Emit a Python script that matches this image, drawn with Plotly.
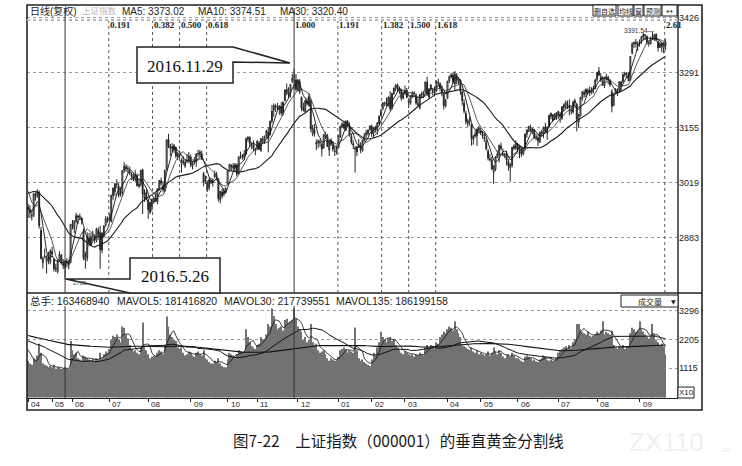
import numpy as np
import pandas as pd
import plotly.graph_objects as go

# 上证指数 (000001) daily bars, 2016-04-27 .. 2017-09-21
opens = [
    2960, 2952, 2937, 2939, 2985, 2989, 2995, 2902, 2822, 2838, 2825, 2833, 2824, 2850, 2830, 2807, 2800, 2827, 2840, 2820, 2810, 2822, 2816, 2822,  # 2016-04/05
    2914, 2906, 2924, 2937, 2934, 2931, 2900, 2829, 2834, 2882, 2870, 2886, 2887, 2876, 2901, 2896, 2853, 2888, 2915, 2930,  # 06
    2932, 2924, 2987, 2997, 3015, 3011, 2991, 2994, 3049, 3058, 3053, 3046, 3040, 3036, 3027, 3037, 3010, 3015, 3051, 2982, 2995,  # 07
    2977, 2946, 2960, 2974, 2982, 2972, 3003, 3024, 3009, 3000, 3051, 3126, 3104, 3108, 3100, 3106, 3084, 3093, 3075, 3072, 3060, 3072, 3075,  # 08
    3083, 3060, 3070, 3070, 3091, 3088, 3090, 3042, 3026, 3018, 3007, 3025, 3020, 3034, 3040, 3029, 2977, 2996, 2991, 2998,  # 09
    3016, 3050, 3062, 3056, 3057, 3063, 3040, 3086, 3082, 3082, 3090, 3127, 3130, 3112, 3114, 3102,  # 10
    3103, 3117, 3098, 3125, 3120, 3135, 3144, 3138, 3171, 3199, 3206, 3208, 3200, 3208, 3190, 3222, 3250, 3238, 3240, 3270, 3280, 3273,  # 11
    3247, 3270, 3230, 3205, 3194, 3221, 3212, 3221, 3140, 3150, 3115, 3118, 3120, 3114, 3105, 3135, 3136, 3100, 3122, 3112, 3096, 3095,  # 12
    3105, 3133, 3157, 3164, 3149, 3170, 3160, 3134, 3116, 3105, 3095, 3106, 3110, 3098, 3125, 3137, 3141, 3150,  # 2017-01
    3158, 3140, 3156, 3149, 3165, 3185, 3202, 3217, 3217, 3210, 3230, 3203, 3240, 3253, 3260, 3246, 3248, 3228,  # 02
    3241, 3248, 3222, 3215, 3231, 3241, 3235, 3215, 3204, 3236, 3235, 3243, 3267, 3230, 3250, 3246, 3245, 3245, 3267, 3264, 3250, 3238, 3208,  # 03
    3227, 3270, 3280, 3285, 3263, 3284, 3267, 3272, 3244, 3216, 3190, 3165, 3171, 3161, 3126, 3134, 3135, 3148,  # 04
    3149, 3140, 3131, 3121, 3097, 3076, 3075, 3045, 3052, 3082, 3087, 3110, 3090, 3087, 3088, 3072, 3056, 3062, 3104, 3105,  # 05
    3112, 3098, 3102, 3090, 3103, 3139, 3146, 3154, 3147, 3150, 3129, 3130, 3120, 3145, 3140, 3157, 3142, 3158, 3183, 3187, 3176, 3182,  # 06
    3190, 3188, 3179, 3204, 3207, 3213, 3208, 3196, 3194, 3216, 3213, 3168, 3184, 3228, 3242, 3240, 3248, 3243, 3240, 3249, 3252,  # 07
    3274, 3295, 3281, 3269, 3258, 3278, 3280, 3271, 3244, 3211, 3240, 3244, 3246, 3258, 3269, 3286, 3285, 3285, 3272, 3339, 3362, 3366, 3362,  # 08
    3363, 3368, 3380, 3382, 3380, 3363, 3363, 3379, 3373, 3386, 3368, 3353, 3364, 3350, 3367,  # 09
]
highs = [
    2967, 2964, 2951, 2993, 2995, 3003, 3000, 2910, 2837, 2857, 2840, 2849, 2855, 2861, 2833, 2819, 2830, 2850, 2843, 2830, 2826, 2833, 2829, 2917,
    2927, 2926, 2945, 2940, 2943, 2935, 2906, 2849, 2897, 2895, 2895, 2901, 2892, 2908, 2909, 2913, 2897, 2915, 2937, 2936,
    2944, 2990, 3007, 3018, 3028, 3018, 3008, 3050, 3070, 3065, 3062, 3059, 3045, 3042, 3050, 3042, 3025, 3051, 3054, 3003, 3003,
    2980, 2972, 2980, 2985, 2993, 3006, 3025, 3032, 3023, 3051, 3126, 3140, 3115, 3117, 3115, 3108, 3095, 3099, 3080, 3085, 3076, 3090, 3095,
    3089, 3072, 3083, 3092, 3101, 3100, 3098, 3046, 3037, 3025, 3030, 3032, 3030, 3049, 3046, 3031, 2999, 3004, 3006, 3009,
    3048, 3066, 3065, 3068, 3068, 3067, 3084, 3096, 3090, 3100, 3131, 3135, 3134, 3119, 3124, 3106,
    3124, 3122, 3130, 3135, 3136, 3150, 3156, 3173, 3211, 3215, 3213, 3216, 3211, 3218, 3220, 3250, 3264, 3255, 3262, 3288, 3301, 3288,
    3275, 3275, 3232, 3217, 3222, 3229, 3240, 3227, 3162, 3164, 3126, 3126, 3126, 3118, 3140, 3145, 3140, 3123, 3129, 3122, 3108, 3111,
    3136, 3160, 3168, 3172, 3173, 3174, 3168, 3140, 3124, 3110, 3110, 3127, 3119, 3125, 3142, 3150, 3151, 3161,
    3163, 3157, 3160, 3168, 3186, 3202, 3218, 3219, 3230, 3233, 3245, 3240, 3254, 3262, 3264, 3257, 3251, 3244,
    3259, 3253, 3227, 3234, 3245, 3245, 3240, 3226, 3237, 3244, 3246, 3269, 3281, 3253, 3262, 3252, 3257, 3272, 3276, 3267, 3260, 3241, 3226,
    3270, 3284, 3290, 3292, 3295, 3290, 3280, 3275, 3245, 3225, 3196, 3177, 3182, 3165, 3137, 3148, 3153, 3160,
    3155, 3147, 3140, 3128, 3102, 3090, 3083, 3062, 3085, 3098, 3113, 3118, 3104, 3093, 3098, 3078, 3068, 3107, 3114, 3124,
    3118, 3113, 3105, 3103, 3140, 3150, 3160, 3163, 3155, 3152, 3140, 3133, 3145, 3150, 3158, 3167, 3158, 3188, 3192, 3188, 3191, 3193,
    3197, 3194, 3208, 3215, 3222, 3222, 3225, 3208, 3222, 3227, 3217, 3190, 3231, 3245, 3249, 3252, 3252, 3257, 3255, 3259, 3276,
    3292, 3305, 3290, 3282, 3281, 3288, 3283, 3275, 3250, 3240, 3252, 3252, 3270, 3271, 3289, 3293, 3292, 3291, 3332, 3366, 3368, 3374, 3368,
    3373, 3381, 3390, 3386, 3383, 3370, 3380, 3391.54, 3387, 3388, 3370, 3366, 3366, 3366, 3374,
]
lows = [
    2932, 2932, 2926, 2934, 2975, 2982, 2906, 2830, 2807, 2832, 2795, 2818, 2818, 2836, 2800, 2799, 2795, 2823, 2817, 2806, 2780, 2810, 2805, 2820,
    2904, 2895, 2919, 2917, 2927, 2916, 2828, 2807, 2825, 2862, 2863, 2876, 2869, 2872, 2882, 2807, 2845, 2883, 2910, 2920,
    2925, 2921, 2977, 2987, 3005, 2983, 2985, 2986, 3043, 3046, 3044, 3038, 3026, 3023, 3022, 3010, 3006, 3010, 2942, 2972, 2975,
    2930, 2942, 2948, 2967, 2973, 2966, 3000, 3012, 2995, 2996, 3050, 3105, 3085, 3095, 3093, 3080, 3075, 3080, 3044, 3063, 3056, 3067, 3068,
    3058, 3052, 3064, 3058, 3083, 3084, 3075, 3010, 3016, 2996, 3000, 3016, 3010, 3030, 3025, 2973, 2968, 2980, 2985, 2993,
    3016, 3047, 3048, 3050, 3046, 3035, 3040, 3078, 3076, 3075, 3089, 3120, 3107, 3102, 3097, 3087,
    3099, 3100, 3096, 3118, 3115, 3130, 3094, 3136, 3166, 3182, 3194, 3198, 3187, 3185, 3185, 3220, 3235, 3228, 3230, 3265, 3250, 3245,
    3245, 3238, 3196, 3195, 3190, 3209, 3207, 3145, 3134, 3133, 3100, 3105, 3108, 3084, 3104, 3127, 3107, 3085, 3110, 3096, 3085, 3089,
    3105, 3130, 3154, 3151, 3147, 3157, 3133, 3114, 3102, 3044, 3085, 3105, 3092, 3096, 3122, 3130, 3136, 3148,
    3132, 3131, 3143, 3138, 3164, 3183, 3198, 3208, 3208, 3207, 3196, 3200, 3236, 3245, 3243, 3238, 3222, 3225,
    3236, 3228, 3203, 3212, 3228, 3232, 3212, 3208, 3200, 3228, 3229, 3242, 3234, 3227, 3245, 3235, 3232, 3244, 3258, 3245, 3233, 3200, 3205,
    3227, 3265, 3277, 3263, 3245, 3263, 3262, 3236, 3210, 3190, 3163, 3157, 3160, 3111, 3113, 3130, 3110, 3143,
    3137, 3128, 3120, 3099, 3074, 3071, 3051, 3016, 3048, 3080, 3069, 3099, 3085, 3080, 3062, 3049, 3022, 3057, 3100, 3100,
    3095, 3080, 3083, 3087, 3100, 3130, 3144, 3145, 3139, 3128, 3124, 3110, 3117, 3133, 3130, 3141, 3125, 3158, 3176, 3170, 3174, 3174,
    3176, 3167, 3174, 3196, 3202, 3201, 3186, 3188, 3190, 3210, 3146, 3155, 3183, 3222, 3230, 3230, 3237, 3233, 3238, 3240, 3250,
    3268, 3282, 3268, 3258, 3253, 3272, 3262, 3256, 3193, 3208, 3237, 3233, 3244, 3245, 3265, 3280, 3278, 3270, 3272, 3336, 3352, 3353, 3345,
    3355, 3362, 3372, 3371, 3360, 3355, 3360, 3373, 3369, 3368, 3343, 3352, 3341, 3339, 3346,
]
closes = [
    2953, 2945, 2938, 2992, 2991, 2997, 2913, 2832, 2832, 2837, 2835, 2827, 2850, 2843, 2807, 2806, 2825, 2843, 2821, 2815, 2822, 2821, 2822, 2917,
    2913, 2925, 2938, 2934, 2936, 2927, 2833, 2842, 2887, 2872, 2885, 2888, 2878, 2905, 2892, 2854, 2895, 2912, 2931, 2930,
    2932, 2988, 3006, 3017, 3016, 2988, 2994, 3049, 3060, 3054, 3054, 3043, 3036, 3027, 3039, 3012, 3015, 3050, 2992, 2994, 2979,
    2953, 2971, 2978, 2982, 2976, 3004, 3025, 3018, 3002, 3050, 3125, 3110, 3110, 3104, 3108, 3085, 3090, 3085, 3068, 3070, 3070, 3075, 3085,
    3063, 3068, 3072, 3090, 3091, 3095, 3078, 3021, 3023, 3003, 3026, 3023, 3025, 3042, 3033, 2980, 2998, 2987, 2998, 3004,
    3048, 3065, 3058, 3061, 3063, 3041, 3083, 3084, 3084, 3090, 3128, 3131, 3116, 3112, 3104, 3100,
    3122, 3102, 3128, 3125, 3133, 3147, 3128, 3171, 3196, 3210, 3207, 3205, 3208, 3192, 3218, 3248, 3241, 3241, 3262, 3277, 3282, 3250,
    3273, 3244, 3204, 3199, 3222, 3215, 3232, 3152, 3155, 3140, 3117, 3122, 3118, 3102, 3137, 3139, 3110, 3122, 3114, 3102, 3096, 3104,
    3136, 3159, 3165, 3154, 3171, 3161, 3136, 3119, 3112, 3103, 3108, 3113, 3101, 3123, 3136, 3143, 3149, 3159,
    3140, 3156, 3153, 3167, 3183, 3196, 3217, 3217, 3212, 3229, 3202, 3240, 3253, 3261, 3251, 3253, 3228, 3242,
    3247, 3230, 3218, 3233, 3242, 3240, 3216, 3212, 3237, 3239, 3241, 3268, 3237, 3250, 3261, 3245, 3248, 3269, 3266, 3252, 3241, 3210, 3223,
    3270, 3281, 3286, 3269, 3288, 3273, 3275, 3246, 3222, 3196, 3170, 3172, 3173, 3129, 3134, 3140, 3152, 3154,
    3143, 3135, 3127, 3103, 3080, 3078, 3053, 3061, 3083, 3090, 3112, 3104, 3090, 3090, 3075, 3062, 3064, 3107, 3110, 3117,
    3102, 3105, 3092, 3102, 3140, 3150, 3158, 3153, 3153, 3130, 3132, 3123, 3144, 3140, 3156, 3147, 3157, 3185, 3191, 3173, 3188, 3192,
    3195, 3182, 3207, 3212, 3217, 3212, 3203, 3197, 3218, 3222, 3176, 3187, 3230, 3244, 3237, 3250, 3244, 3247, 3249, 3253, 3273,
    3292, 3285, 3272, 3262, 3279, 3281, 3275, 3262, 3208, 3237, 3251, 3246, 3268, 3268, 3286, 3290, 3287, 3271, 3331, 3362, 3365, 3363, 3360,
    3367, 3380, 3385, 3385, 3365, 3365, 3376, 3380, 3384, 3371, 3353, 3362, 3356, 3364, 3357,
]
# volume, in units of 10^5 lots (axis shows 1115 / 2205 / 3296)
volumes = [
    1400, 1300, 1250, 1500, 1450, 1600, 2050, 1700, 1300, 1250, 1200, 1150, 1200, 1150, 1250, 1100, 1150, 1120, 1100, 1100, 1150, 1100, 1080, 2150,
    1800, 1650, 1700, 1500, 1450, 1400, 1600, 1550, 1500, 1450, 1420, 1480, 1400, 1500, 1450, 1700, 1500, 1650, 1750, 1700,
    1850, 2200, 2350, 2300, 2400, 2200, 2100, 2700, 2650, 2400, 2250, 2000, 1850, 1750, 1800, 1700, 1650, 1900, 2850, 2000, 1800,
    1650, 1500, 1550, 1600, 1550, 1700, 1800, 1750, 1650, 2000, 3080, 2700, 2400, 2300, 2200, 2150, 1900, 1850, 1900, 1700, 1600, 1650, 1750,
    1700, 1600, 1550, 1700, 1750, 1650, 1600, 1800, 1500, 1450, 1350, 1300, 1300, 1400, 1350, 1500, 1300, 1200, 1150, 1150,
    1450, 1700, 1650, 1600, 1550, 1650, 1800, 1750, 1700, 1750, 2600, 2300, 2100, 1950, 1900, 1850,
    2000, 2050, 2300, 2200, 2250, 2400, 2800, 2700, 3390, 3100, 2800, 2600, 2650, 2700, 2550, 2950, 3000, 2850, 2900, 2950, 3390, 3000,
    2700, 2600, 2500, 2200, 2300, 2100, 2200, 2800, 2100, 2000, 2050, 1800, 1700, 1750, 1800, 1650, 1500, 1400, 1500, 1450, 1400, 1450,
    1550, 1800, 1850, 1900, 1850, 1700, 1800, 1750, 1700, 2660, 1800, 1500, 1400, 1450, 1350, 1300, 1250, 1200,
    1450, 1700, 1600, 1900, 2100, 2500, 2300, 2200, 2100, 2240, 2300, 2150, 2200, 2000, 1900, 1800, 1700, 1650,
    1750, 1700, 1650, 1600, 1650, 1560, 1650, 1600, 1700, 1650, 1600, 1900, 2000, 1900, 2000, 1950, 1850, 2100, 2050, 2300, 2400, 2500, 2450,
    2600, 2700, 2650, 2550, 2900, 2600, 2450, 2300, 2000, 1950, 1900, 1850, 1800, 1900, 1750, 1700, 1800, 1650,
    1700, 1650, 1600, 1650, 1750, 1600, 1700, 1900, 1750, 1650, 1800, 1700, 1560, 1500, 1600, 1650, 1550, 1700, 1600, 1500,
    1500, 1450, 1400, 1350, 1550, 1600, 1550, 1500, 1400, 1450, 1380, 1350, 1450, 1500, 1600, 1550, 1450, 1400, 1450, 1400, 1420, 1500,
    1700, 1800, 1850, 1900, 1950, 1850, 2000, 1900, 2100, 2200, 2800, 2800, 2600, 2500, 2450, 2400, 2500, 2350, 2300, 2350, 2400,
    2500, 2450, 2550, 2900, 2400, 2500, 2450, 2400, 2550, 2000, 1900, 1850, 1950, 1900, 2000, 1850, 1900, 1950, 2450, 2650, 2600, 2500, 2550,
    2900, 2600, 2500, 2400, 2300, 2250, 2350, 2800, 2400, 2200, 2100, 2000, 2050, 1950, 1634,
]
# sessions before the visible window, only used to warm up the moving averages
closes_pre = [2870, 2904, 2955, 3018, 2999, 3009, 2960, 2979, 2957, 2920, 3000, 3003, 3009, 3053, 3050,
              3009, 2985, 3034, 3023, 3066, 3082, 3078, 3033, 3042, 2972, 2953, 2959, 2946, 2964]
volumes_pre = [2900, 3000, 2800, 2700, 2900, 3100, 2800, 2600, 2700, 2900, 2800, 2600, 2500, 2700, 2600,
               2300, 2200, 2400, 2500, 2300, 2100, 2200, 2400, 2300, 2200, 2500, 2400, 2300, 2200, 2100,
               2000, 2200, 2300, 2100, 2000, 2200, 2400, 2300, 2100, 2000, 1900, 2000, 1950, 1900, 1850]

month_ticks = [0, 13, 24, 44, 65, 88, 108, 124, 146, 168, 186, 204, 227, 245, 265, 287, 308, 331]
month_labels = ["04", "05", "06", "07", "08", "09", "10", "11", "12",
                "01", "02", "03", "04", "05", "06", "07", "08", "09"]
price_ticks = [2883, 3019, 3155, 3291, 3426]
vol_ticks = [1115, 2205, 3296]
fib_ratios = [0.191, 0.382, 0.5, 0.618, 1.0, 1.191, 1.382, 1.5, 1.618, 2.618]
fib_labels = ["0.191", "0.382", "0.500", "0.618", "1.000", "1.191", "1.382", "1.500", "1.618", "2.61"]

assert len(opens) == len(highs) == len(lows) == len(closes) == len(volumes) == 346

n = len(closes)
x = np.arange(n)

def ma(pre, vals, w):
    s = pd.Series(pre + vals, dtype=float).rolling(w, min_periods=1).mean()
    return s.iloc[len(pre):].to_numpy()

ma5, ma10, ma30 = ma(closes_pre, closes, 5), ma(closes_pre, closes, 10), ma(closes_pre, closes, 30)
mv5, mv30, mv135 = ma(volumes_pre, volumes, 5), ma(volumes_pre, volumes, 30), ma(volumes_pre, volumes, 135)

low_idx = int(np.argmin(lows[:60]))
high_idx = int(np.argmax(highs[:200]))
span = high_idx - low_idx
top_idx = int(np.argmax(highs))

# pixel helpers for the decorations (plot area is x 27..678, y 5..398)
def px(v):
    return (v - 27) / 651

def py(v):
    return (398 - v) / 393

INK = "#222222"
fig = go.Figure()

fig.add_trace(go.Candlestick(
    x=x, open=opens, high=highs, low=lows, close=closes,
    increasing=dict(line=dict(color="#262626", width=1), fillcolor="white"),
    decreasing=dict(line=dict(color="#262626", width=1), fillcolor="#262626"),
    whiskerwidth=0, showlegend=False, hoverinfo="skip",
    xaxis="x", yaxis="y"))
for vals, col, w in [(ma30, "#1a1a1a", 1.1), (ma10, "#444444", 0.9), (ma5, "#111111", 0.9)]:
    fig.add_trace(go.Scatter(x=x, y=vals, mode="lines", line=dict(color=col, width=w),
                             showlegend=False, hoverinfo="skip", xaxis="x", yaxis="y"))

fig.add_trace(go.Bar(x=x, y=volumes, marker=dict(color="#727272", line=dict(width=0)),
                     showlegend=False, hoverinfo="skip", xaxis="x2", yaxis="y2"))
for vals, w in [(mv135, 1.1), (mv30, 1.0), (mv5, 0.8)]:
    fig.add_trace(go.Scatter(x=x, y=vals, mode="lines", line=dict(color="#111111", width=w),
                             showlegend=False, hoverinfo="skip", xaxis="x2", yaxis="y2"))

shapes = []
ann = []

# frames
shapes.append(dict(type="rect", xref="paper", yref="paper", x0=px(27), x1=px(702), y0=py(410), y1=py(5),
                   line=dict(color=INK, width=1.6)))
shapes.append(dict(type="line", xref="paper", yref="paper", x0=px(678), x1=px(678), y0=py(398), y1=py(5),
                   line=dict(color=INK, width=1.4)))
shapes.append(dict(type="line", xref="paper", yref="paper", x0=px(27), x1=px(702), y0=py(293), y1=py(293),
                   line=dict(color=INK, width=1.4)))
shapes.append(dict(type="line", xref="paper", yref="paper", x0=px(27), x1=px(678), y0=py(20), y1=py(20),
                   line=dict(color="#b5b5b5", width=2, dash="dot")))

# vertical golden-section time lines
for xi in (low_idx, high_idx):
    shapes.append(dict(type="line", xref="x", yref="paper", x0=xi, x1=xi, y0=py(293), y1=py(8),
                       line=dict(color="#333333", width=1)))
    shapes.append(dict(type="line", xref="x", yref="paper", x0=xi, x1=xi, y0=py(398), y1=py(306),
                       line=dict(color="#333333", width=1)))
for r, lab in zip(fib_ratios, fib_labels):
    xi = low_idx + r * span
    if r != 1.0:
        shapes.append(dict(type="line", xref="x", yref="paper", x0=xi, x1=xi, y0=py(293), y1=py(21),
                           line=dict(color="#555555", width=1, dash="dot")))
    ann.append(dict(x=xi, y=py(25), xref="x", yref="paper", text=f"<b>{lab}</b>", showarrow=False,
                    xanchor="left", yanchor="middle", xshift=-1,
                    font=dict(family="Liberation Serif", size=9, color=INK)))

# call-out boxes
def path(pts):
    return "M " + " L ".join(f"{px(a):.5f},{py(b):.5f}" for a, b in pts) + " Z"

shapes.append(dict(type="path", xref="paper", yref="paper",
                   path=path([(137, 47), (233, 47), (290, 63), (233, 62), (233, 83), (137, 83)]),
                   fillcolor="white", line=dict(color=INK, width=1.5)))
shapes.append(dict(type="path", xref="paper", yref="paper",
                   path=path([(130, 258), (220, 258), (220, 293), (130, 293), (66, 279), (130, 279)]),
                   fillcolor="white", line=dict(color=INK, width=1.5)))
ann.append(dict(x=px(185), y=py(66), xref="paper", yref="paper", text="2016.11.29", showarrow=False,
                xanchor="center", yanchor="middle",
                font=dict(family="Liberation Serif", size=17, color="#111111")))
ann.append(dict(x=px(175), y=py(276), xref="paper", yref="paper", text="2016.5.26", showarrow=False,
                xanchor="center", yanchor="middle",
                font=dict(family="Liberation Serif", size=17, color="#111111")))
ann.append(dict(x=low_idx + 3, y=lows[low_idx], xref="x", yref="y", text=f"{int(lows[low_idx])}",
                showarrow=False, xanchor="left", yshift=-3,
                font=dict(family="Liberation Sans", size=6, color="#444444")))
ann.append(dict(x=top_idx + 2, y=highs[top_idx], xref="x", yref="y", text=f"{highs[top_idx]:.2f}—",
                showarrow=False, xanchor="right", yshift=1,
                font=dict(family="Liberation Sans", size=6.5, color="#333333")))

# header rows
hdr_font = "Liberation Sans, Noto Sans CJK SC"
for x0, txt, col, fs in [(28, "日线(复权)", INK, 10), (80, "上证指数", "#b8b8b8", 8.5),
                         (120, "MA5: 3373.02", INK, 10), (196, "MA10: 3374.51", INK, 10),
                         (278, "MA30: 3320.40", INK, 10)]:
    ann.append(dict(x=px(x0), y=py(11), xref="paper", yref="paper", text=txt, showarrow=False,
                    xanchor="left", yanchor="middle", font=dict(family=hdr_font, size=fs, color=col)))
for x0, txt in [(28, "总手: 163468940"), (115, "MAVOL5: 181416820"), (222, "MAVOL30: 217739551"),
                (334, "MAVOL135: 186199158")]:
    ann.append(dict(x=px(x0), y=py(301), xref="paper", yref="paper", text=txt, showarrow=False,
                    xanchor="left", yanchor="middle", font=dict(family=hdr_font, size=10.5, color=INK)))

# toolbar buttons top right
for x0, x1, txt in [(593, 616, "删自选"), (618, 633, "均线"), (634, 643, "窗"), (644, 661, "预测"), (662, 677, "↔")]:
    shapes.append(dict(type="rect", xref="paper", yref="paper", x0=px(x0), x1=px(x1), y0=py(16), y1=py(5),
                       line=dict(color=INK, width=1), fillcolor="white"))
    ann.append(dict(x=px((x0 + x1) / 2), y=py(10.5), xref="paper", yref="paper", text=txt, showarrow=False,
                    xanchor="center", yanchor="middle",
                    font=dict(family="Noto Sans CJK SC", size=7, color=INK)))
shapes.append(dict(type="rect", xref="paper", yref="paper", x0=px(621), x1=px(678), y0=py(307), y1=py(295),
                   line=dict(color=INK, width=1), fillcolor="white"))
ann.append(dict(x=px(650), y=py(301), xref="paper", yref="paper", text="成交量", showarrow=False,
                xanchor="center", yanchor="middle",
                font=dict(family="Noto Sans CJK SC", size=8, color=INK)))
ann.append(dict(x=px(673), y=py(301), xref="paper", yref="paper", text="▼", showarrow=False,
                xanchor="center", yanchor="middle",
                font=dict(family="DejaVu Sans", size=6, color=INK)))
shapes.append(dict(type="rect", xref="paper", yref="paper", x0=px(678), x1=px(694), y0=py(398), y1=py(387),
                   line=dict(color=INK, width=1), fillcolor="white"))
ann.append(dict(x=px(686), y=py(392.5), xref="paper", yref="paper", text="X10", showarrow=False,
                xanchor="center", yanchor="middle",
                font=dict(family="Liberation Sans", size=8, color=INK)))

# month labels
for t, lab in zip(month_ticks, month_labels):
    ann.append(dict(x=t, y=py(404), xref="x", yref="paper", text=lab, showarrow=False,
                    xanchor="left", yanchor="middle", xshift=1,
                    font=dict(family="Liberation Sans", size=8, color=INK)))

# caption and watermark
ann.append(dict(x=px(398), y=py(440), xref="paper", yref="paper",
                text="图7-22　上证指数（000001）的垂直黄金分割线", showarrow=False,
                xanchor="center", yanchor="middle",
                font=dict(family="Noto Sans CJK SC", size=15.5, color="#1a1a1a")))
ann.append(dict(x=px(666), y=py(442), xref="paper", yref="paper", text="ZX110", showarrow=False,
                xanchor="center", yanchor="middle",
                font=dict(family="Liberation Sans", size=26, color="#f0f0f0")))
ann.append(dict(x=px(718), y=py(449), xref="paper", yref="paper", text=".cc", showarrow=False,
                xanchor="left", yanchor="middle",
                font=dict(family="Liberation Sans", size=8, color="#e8e8e8")))

axis_common = dict(showgrid=False, zeroline=False, showline=False)
fig.update_layout(
    width=742, height=466,
    margin=dict(l=27, r=64, t=5, b=68),
    paper_bgcolor="white", plot_bgcolor="white",
    showlegend=False, bargap=0.4,
    xaxis=dict(domain=[0, 1], range=[-0.6, 351.8], anchor="y", showticklabels=False,
               rangeslider=dict(visible=False), **axis_common),
    xaxis2=dict(domain=[0, 1], range=[-0.6, 351.8], matches="x", anchor="y2",
                tickmode="array", tickvals=month_ticks, ticks="outside", ticklen=3, tickcolor=INK,
                showticklabels=False, showgrid=False, zeroline=False,
                showline=True, linecolor=INK, linewidth=1.4),
    yaxis=dict(domain=[py(293), 1], range=[2747, 3458], side="right", anchor="x",
               tickmode="array", tickvals=price_ticks, showgrid=True, gridcolor="#9a9a9a",
               griddash="dot", gridwidth=1, zeroline=False, ticks="",
               tickfont=dict(family="Liberation Sans", size=9, color=INK)),
    yaxis2=dict(domain=[0, py(293)], range=[-15, 3975], side="right", anchor="x2",
                tickmode="array", tickvals=vol_ticks, showgrid=True, gridcolor="#9a9a9a",
                griddash="dot", gridwidth=1, zeroline=False, ticks="",
                tickfont=dict(family="Liberation Sans", size=9, color=INK)),
    shapes=shapes,
    annotations=ann,
)

# the page's default 8px body margin would shift the whole picture
fig.write_html("out.html", config={"displayModeBar": False},
               post_script="document.body.style.margin='0';")
